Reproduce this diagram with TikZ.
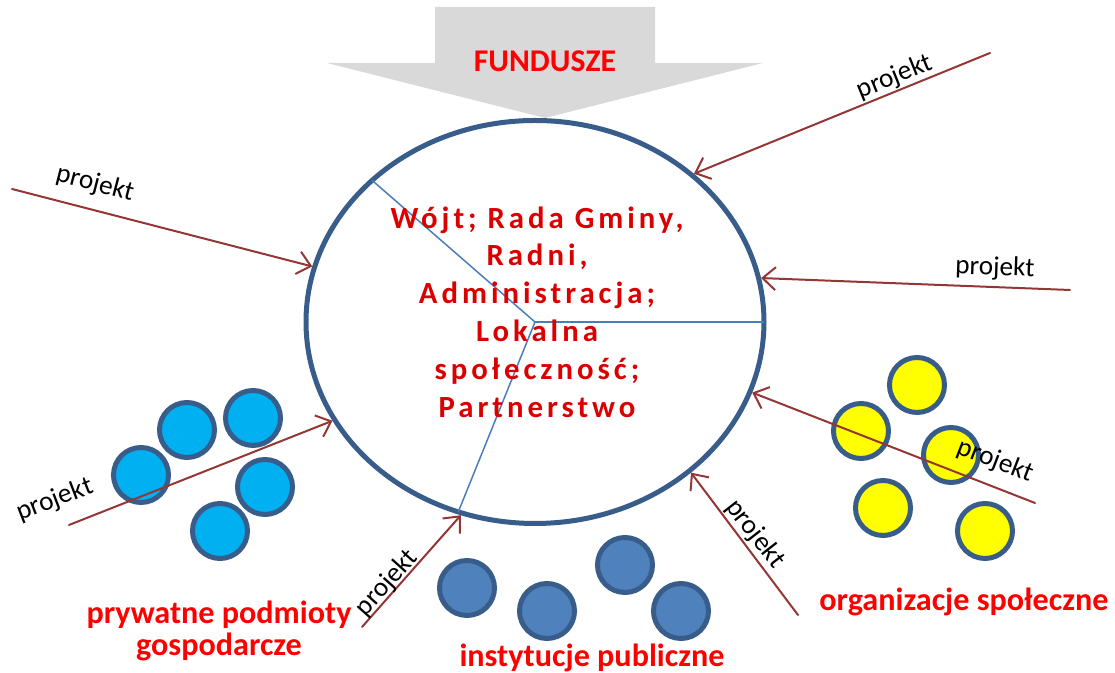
\documentclass[tikz,border=0pt]{standalone}
\usepackage{fontspec}
\setmainfont{Carlito}
\usetikzlibrary{shapes.geometric, arrows.meta}
\definecolor{ringblue}{HTML}{385D8A}
\definecolor{spokeblue}{HTML}{4A7EBB}
\definecolor{arrowred}{HTML}{943634}
\definecolor{fundgray}{HTML}{D9D9D9}
\definecolor{textred}{HTML}{FF0000}
\definecolor{centerred}{HTML}{DA0000}
\definecolor{firmcyan}{HTML}{00B0F0}
\definecolor{instblue}{HTML}{4F81BD}
\definecolor{orgyellow}{HTML}{FFFF00}
\tikzset{
  member/.style={circle, draw=ringblue, line width=0.1cm, minimum size=1.1cm, inner sep=0pt},
  projekt/.style={draw=arrowred, line width=0.04cm, ->},
  plabel/.style={font=\fontsize{15.5}{18}\selectfont, inner sep=1pt},
  group/.style={text=textred, font=\fontsize{18.3}{18.2}\selectfont\bfseries, align=center}
}

\begin{document}
\begin{tikzpicture}[line cap=round, >={Straight Barb[length=2.6mm,width=4.6mm]}]
            \useasboundingbox (0,0) rectangle (22.3,13.46);

            % the funds arrow
            \draw[fill=fundgray, draw=none] (8.70,13.32) -- (13.10,13.32) -- (13.10,12.20) -- (15.26,12.20)
                -- (10.90,11.10) -- (6.54,12.20) -- (8.70,12.20) -- cycle;
            \node[text=textred, font=\fontsize{18}{20}\selectfont\bfseries] (fundusze) at (10.90,12.24) {FUNDUSZE};

            % the commune
            \node[ellipse, draw=ringblue, fill=white, line width=0.1cm, minimum width=9.16cm, minimum height=8.06cm] (gmina) at (10.70,7.02) {};
            \draw[spokeblue, line width=0.03cm, shorten >=1.5pt] (gmina.center) -- (gmina.139.5);
            \draw[spokeblue, line width=0.03cm, shorten >=1.5pt] (gmina.center) -- (gmina.0);
            \draw[spokeblue, line width=0.03cm, shorten >=1.5pt] (gmina.center) -- (gmina.248.8);
            \node[text=centerred, align=center, font=\fontsize{17.5}{21.5}\selectfont\bfseries\addfontfeatures{LetterSpace=13}] (wladze) at (10.74,7.22)
                {Wójt; Rada Gminy,\\Radni,\\Administracja;\\Lokalna\\społeczność;\\Partnerstwo};

            % private firms
            \foreach \p [count=\i] in {(2.82,3.96),(3.74,4.86),(5.06,5.10),(5.30,3.72),(4.40,2.84)}
                \node[member, fill=firmcyan] (firma\i) at \p {};
            % public institutions
            \foreach \p [count=\i] in {(9.34,1.70),(10.94,1.24),(12.50,2.16),(13.62,1.24)}
                \node[member, fill=instblue] (inst\i) at \p {};
            % social organisations
            \foreach \p [count=\i] in {(18.34,5.76),(17.22,4.84),(19.02,4.36),(17.66,3.30),(19.70,2.84)}
                \node[member, fill=orgyellow] (org\i) at \p {};

            % projects
            \coordinate (s1) at (0.24,9.68);
            \coordinate (s2) at (19.80,12.40);
            \coordinate (s3) at (21.40,7.66);
            \coordinate (s4) at (20.70,3.40);
            \coordinate (s5) at (15.96,1.16);
            \coordinate (s6) at (7.24,0.92);
            \coordinate (s7) at (1.38,2.96);
            \draw[projekt] (s1) -- (gmina.166);
            \draw[projekt] (s2) -- (gmina.43.7);
            \draw[projekt] (s3) -- (gmina.11);
            \draw[projekt] (s4) -- (gmina.-18.3);
            \draw[projekt] (s5) -- (gmina.-44.6);
            \draw[projekt] (s6) -- (gmina.249);
            \draw[projekt] (s7) -- (gmina.206.7);

            \node[plabel, rotate=-14.5] (p1) at (1.90,9.78) {projekt};
            \node[plabel, rotate=22] (p2) at (17.90,11.92) {projekt};
            \node[plabel, rotate=-2] (p3) at (19.90,8.10) {projekt};
            \node[plabel, rotate=-21] (p4) at (19.90,4.24) {projekt};
            \node[plabel, rotate=-52] (p5) at (15.10,2.78) {projekt};
            \node[plabel, rotate=48] (p6) at (7.74,1.80) {projekt};
            \node[plabel, rotate=21] (p7) at (1.10,3.46) {projekt};

            % groups
            \node[group] (firmy) at (4.38,0.84) {prywatne podmioty\\gospodarcze};
            \node[group] (instytucje) at (11.84,0.30) {instytucje publiczne};
            \node[group] (organizacje) at (19.28,1.42) {organizacje społeczne};

        \end{tikzpicture}
\end{document}
